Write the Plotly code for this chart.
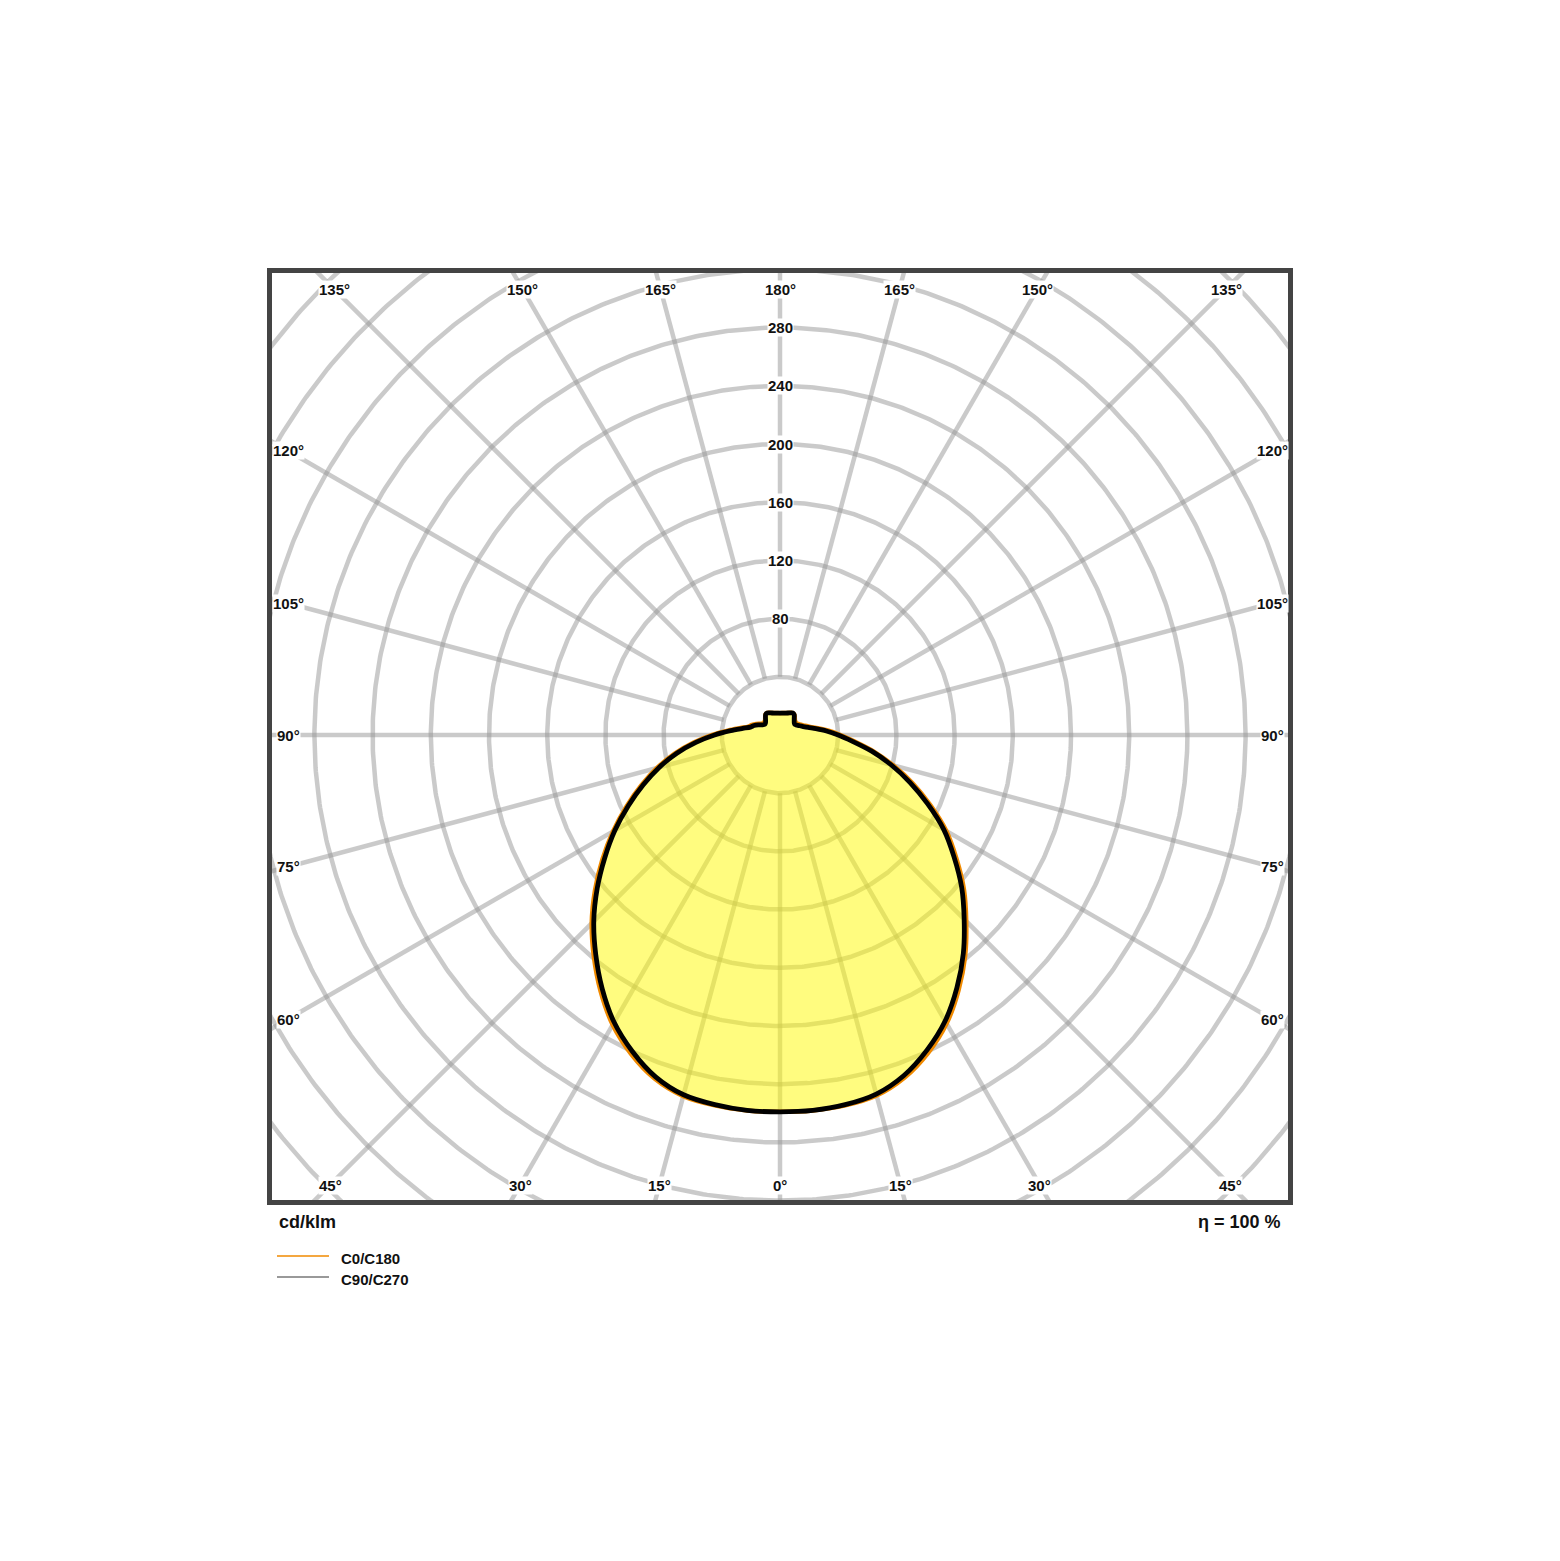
import numpy as np
import plotly.graph_objects as go

# ---------------- data (cd/klm) ----------------
gamma = list(range(0, 181, 5))  # gamma angle, 0 = nadir, 180 = zenith

# C0/C180 plane (orange): right half = C0, left half = C180
c0 = [259, 259, 258.5, 256.5, 250.5, 241, 229, 214, 198, 181, 165, 148, 132, 114, 97, 80.5,
      65.5, 51.5, 41.5, 33.5, 26.5, 21.5, 18.5, 16.5, 15, 14, 14, 14.5, 15.8, 17.2, 17.5,
      16.8, 16.1, 15.6, 15.3, 15.1, 15.0]
c180 = [259, 259, 258.5, 257, 251.5, 242, 230, 215, 199, 183, 166, 149, 132.5, 116.5, 101.5,
        87.5, 73.5, 59.5, 46.5, 35.5, 27.5, 22.5, 20.5, 18, 15.5, 14, 14, 14.5, 15.8, 17.4,
        17.5, 16.8, 16.1, 15.6, 15.3, 15.1, 15.0]
# C90/C270 plane (black): right half = C90, left half = C270
c90 = [259, 259, 258, 255.5, 249, 239, 227, 212, 196, 179, 163, 146, 130, 112, 95, 79, 64, 50,
       40, 32, 25, 20, 17, 15, 13.5, 12.5, 12.8, 13.8, 15.2, 17.0, 17.5, 16.8, 16.1, 15.6,
       15.3, 15.1, 15.0]
c270 = [259, 259, 258, 256, 250, 240, 228, 213, 197, 181, 164, 147, 131, 115, 100, 86, 72, 58,
        45, 34, 26, 21, 19, 16.5, 14, 12.8, 13, 14, 15.5, 17.2, 17.5, 16.8, 16.1, 15.6, 15.3,
        15.1, 15.0]

ring_values = [40, 80, 120, 160, 200, 240, 280, 320, 360, 400, 440, 480]
ring_labels = [80, 120, 160, 200, 240, 280]
spoke_angles = list(range(0, 360, 15))
angle_labels = [0, 15, 30, 45, 60, 75, 90, 105, 120, 135, 150, 165, 180]
series_names = ["C0/C180", "C90/C270"]
unit_text = "cd/klm"
eta_text = "η = 100 %"

# ---------------- geometry helpers ----------------
FONT = "Liberation Sans, Arial, sans-serif"
OFF = 8                      # page body margin
W, H = 1544, 1545
PL, PT, PW, PH = 264, 265, 1016, 927
SCALE = 1.455                # px per cd/klm
XR = (PW / 2) / SCALE
Y_TOP = 462 / SCALE
Y_BOT = (PH - 462) / SCALE


def pxx(sx):
    return (sx - OFF - PL) / PW


def pxy(sy):
    return 1 - (sy - OFF - PT) / PH


def outline(right, left):
    g = np.radians(gamma)
    r = np.array(right, dtype=float)
    lft = np.array(left, dtype=float)
    xr, yr = r * np.sin(g), -r * np.cos(g)
    xl, yl = -lft[::-1] * np.sin(g[::-1]), -lft[::-1] * np.cos(g[::-1])
    return np.concatenate([xr, xl]), np.concatenate([yr, yl])


fig = go.Figure()

# rings
rx, ry = [], []
t = np.linspace(0, 2 * np.pi, 721)
for r in ring_values:
    rx += list(r * np.cos(t)) + [None]
    ry += list(r * np.sin(t)) + [None]
grid_col = "rgba(150,150,150,0.5)"
fig.add_trace(go.Scatter(x=rx, y=ry, mode="lines", line=dict(color=grid_col, width=4.5),
                         hoverinfo="skip", showlegend=False))
# spokes
sx, sy = [], []
for a in spoke_angles:
    ar = np.radians(a)
    sx += [ring_values[0] * np.sin(ar), 520 * np.sin(ar), None]
    sy += [-ring_values[0] * np.cos(ar), -520 * np.cos(ar), None]
fig.add_trace(go.Scatter(x=sx, y=sy, mode="lines", line=dict(color=grid_col, width=4.5),
                         hoverinfo="skip", showlegend=False))

# curves
ox, oy = outline(c0, c180)
bx, by = outline(c90, c270)
fig.add_trace(go.Scatter(x=ox, y=oy, mode="lines", fill="toself",
                         fillcolor="rgba(255,249,0,0.5)",
                         line=dict(color="#F08A00", width=4.5, shape="spline", smoothing=0.8),
                         name=series_names[0], showlegend=False))
fig.add_trace(go.Scatter(x=bx, y=by, mode="lines",
                         line=dict(color="#000000", width=4.8, shape="spline", smoothing=0.8),
                         name=series_names[1], showlegend=False))

annotations = []
# radial labels
for v in ring_labels:
    annotations.append(dict(x=0, y=v, xref="x", yref="y", text=str(v), showarrow=False,
                            font=dict(family=FONT, size=15, color="#111", weight="bold"),
                            bgcolor="white", borderpad=0, xanchor="center", yanchor="middle"))

# angle labels at frame
LX = 492 / SCALE
LYB = 450 / SCALE
LYT = 446 / SCALE
for a in angle_labels:
    sides = [1] if a in (0, 180) else [1, -1]
    for sgn in sides:
        ar = np.radians(a)
        dx, dy = sgn * np.sin(ar), -np.cos(ar)
        cands = []
        if abs(dx) > 1e-9:
            cands.append(LX / abs(dx))
        if dy < -1e-9:
            cands.append(LYB / abs(dy))
        if dy > 1e-9:
            cands.append(LYT / dy)
        tt = min(cands)
        annotations.append(dict(x=tt * dx, y=tt * dy, xref="x", yref="y", text=f"{a}°",
                                showarrow=False,
                                font=dict(family=FONT, size=15, color="#111", weight="bold"),
                                bgcolor="white", borderpad=0,
                                xanchor="center", yanchor="middle"))

# footer texts
annotations.append(dict(x=pxx(277), y=pxy(1222), xref="paper", yref="paper", text=unit_text,
                        showarrow=False, xanchor="left", yanchor="middle",
                        font=dict(family=FONT, size=18, color="#111", weight="bold")))
annotations.append(dict(x=pxx(1283), y=pxy(1222), xref="paper", yref="paper", text=eta_text,
                        showarrow=False, xanchor="right", yanchor="middle",
                        font=dict(family=FONT, size=18, color="#111", weight="bold")))
# legend
legend_cols = ["#F08A00", "#777777"]
legend_y = [1256, 1277]
shapes = []
for name, col, ly in zip(series_names, legend_cols, legend_y):
    shapes.append(dict(type="line", xref="paper", yref="paper", x0=pxx(277), x1=pxx(329),
                       y0=pxy(ly), y1=pxy(ly), line=dict(color=col, width=1.5)))
    annotations.append(dict(x=pxx(339), y=pxy(ly + 2), xref="paper", yref="paper", text=name,
                            showarrow=False, xanchor="left", yanchor="middle",
                            font=dict(family=FONT, size=15, color="#111", weight="bold")))

axis_common = dict(showgrid=False, zeroline=False, showticklabels=False, ticks="",
                   showline=True, mirror=True, linecolor="#444444", linewidth=5,
                   fixedrange=True)
fig.update_layout(
    width=W, height=H, autosize=False,
    margin=dict(l=PL, r=W - PL - PW, t=PT, b=H - PT - PH, pad=0),
    plot_bgcolor="white", paper_bgcolor="white",
    xaxis=dict(range=[-XR, XR], **axis_common),
    yaxis=dict(range=[-Y_BOT, Y_TOP], **axis_common),
    annotations=annotations, shapes=shapes, showlegend=False,
)
fig.write_html("out.html")
